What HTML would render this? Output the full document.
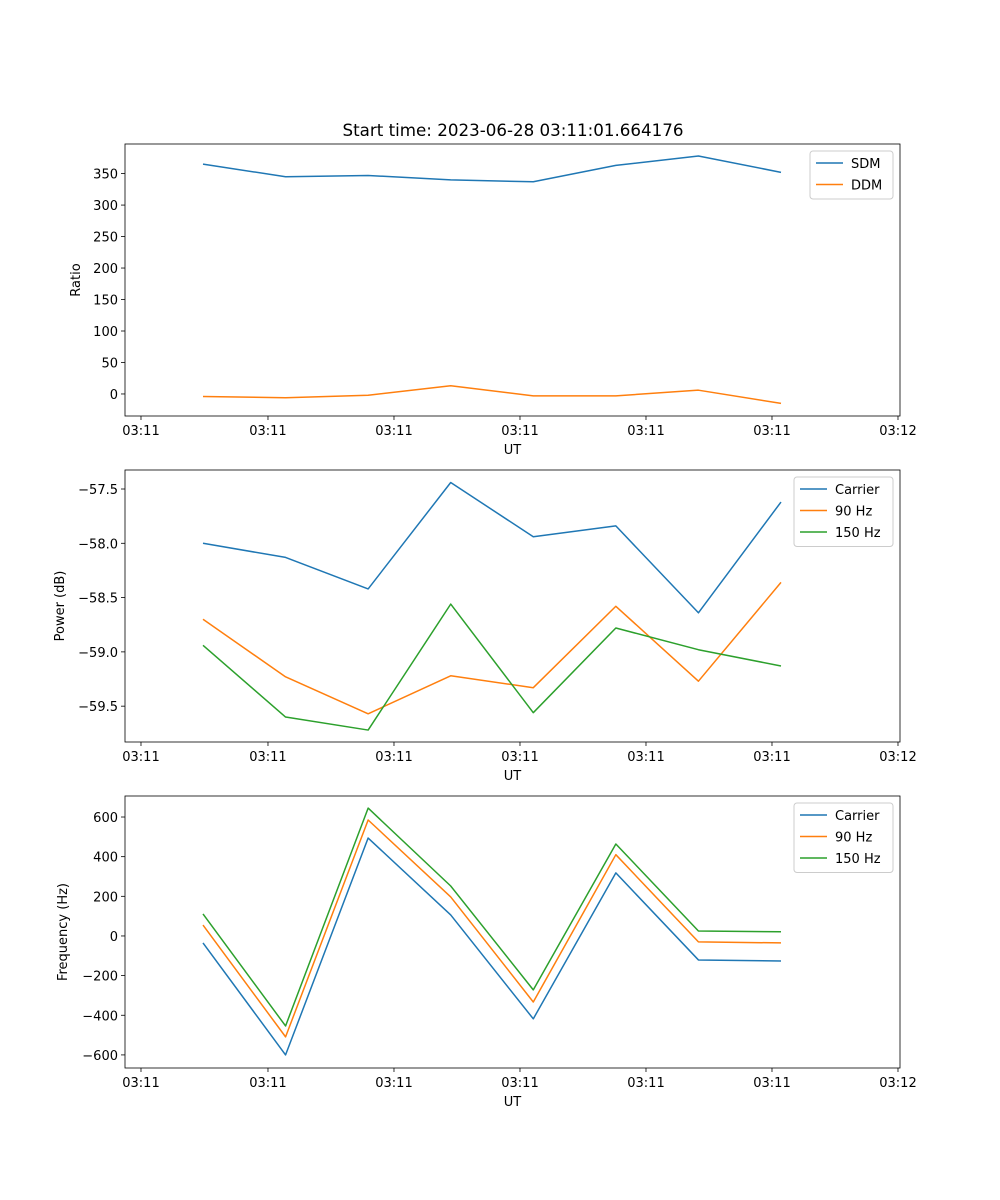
<!DOCTYPE html>
<html><head><meta charset="utf-8"><style>
body{margin:0;background:#fff}
svg{display:block;font-family:"DejaVu Sans","Liberation Sans",sans-serif}
</style></head><body>
<svg id="fig" width="1000" height="1200" xmlns="http://www.w3.org/2000/svg">
<rect width="1000" height="1200" fill="#fff"/>
<text x="513" y="136" text-anchor="middle" font-size="16.7">Start time: 2023-06-28 03:11:01.664176</text>
</svg>
<script>
const xTickVals=[-0.751,0.787,2.313,3.839,5.365,6.891,8.417];
const xTickLabels=["03:11","03:11","03:11","03:11","03:11","03:11","03:12"];
const sdm=[365,345,347,340,337,363,378,352];
const ddm=[-4,-6,-2,13,-3,-3,6,-15];
const pwrCarrier=[-58.0,-58.13,-58.42,-57.44,-57.94,-57.84,-58.64,-57.62];
const pwr90=[-58.70,-59.23,-59.57,-59.22,-59.33,-58.58,-59.27,-58.36];
const pwr150=[-58.94,-59.60,-59.72,-58.56,-59.56,-58.78,-58.98,-59.13];
const frqCarrier=[-35,-600,494,106,-418,318,-121,-126];
const frq90=[55,-509,585,197,-333,410,-30,-35];
const frq150=[111,-454,645,252,-272,464,25,21];
const ratioTicks=[0,50,100,150,200,250,300,350];
const powerTicks=[-59.5,-59.0,-58.5,-58.0,-57.5];
const powerTickLabels=["\u221259.5","\u221259.0","\u221258.5","\u221258.0","\u221257.5"];
const freqTicks=[-600,-400,-200,0,200,400,600];
const freqTickLabels=["\u2212600","\u2212400","\u2212200","0","200","400","600"];

const NS="http://www.w3.org/2000/svg";
const svg=document.getElementById('fig');
const C=['#1f77b4','#ff7f0e','#2ca02c'];
function mk(tag,attrs,parent){const e=document.createElementNS(NS,tag);for(const k in attrs)e.setAttribute(k,attrs[k]);(parent||svg).appendChild(e);return e;}
const L=125,R=900;
const xs=i=>203+i*82.57;

function panel(name,top,bot,ymin,ymax,yt,ytl,ylabel,series,names,leg){
  const g=mk('g',{});
  
  
  const ys=v=>bot-(v-ymin)/(ymax-ymin)*(bot-top);
  yt.forEach((v,k)=>{const y=ys(v);
    mk('line',{x1:L-4,x2:L,y1:y,y2:y,stroke:'#000','stroke-width':0.8},g);
    const t=mk('text',{x:L-7,y:y+5,'text-anchor':'end','font-size':13},g);t.textContent=ytl[k];
    
    
  });
  xTickVals.forEach((v,k)=>{const x=xs(v);
    mk('line',{x1:x,x2:x,y1:bot,y2:bot+4,stroke:'#000','stroke-width':0.8},g);
    const t=mk('text',{x:x,y:bot+19,'text-anchor':'middle','font-size':13},g);t.textContent=xTickLabels[k];
    
    
  });
  series.forEach((s,si)=>{
    const p=mk('polyline',{points:s.map((v,i)=>xs(i)+','+ys(v)).join(' '),fill:'none',stroke:C[si],'stroke-width':1.5,'stroke-linejoin':'round'},g);
    
    
  });
  mk('rect',{x:L,y:top,width:R-L,height:bot-top,fill:'none',stroke:'#000','stroke-width':0.8},g);
  const xl=mk('text',{x:(L+R)/2,y:bot+38,'text-anchor':'middle','font-size':13},g);xl.textContent='UT';
  
  
  const yx=leg.yl, ym=(top+bot)/2;
  const yl=mk('text',{x:yx,y:ym,'text-anchor':'middle','font-size':13,transform:'rotate(-90 '+yx+' '+ym+')'},g);yl.textContent=ylabel;
  
  
  const lg=mk('g',{},g);
  
  
  mk('rect',{x:leg.x,y:top+7,width:R-7-leg.x,height:names.length*21.5+5,rx:3,fill:'#fff',stroke:'#ccc','stroke-width':1},lg);
  names.forEach((n,k)=>{const y=top+19+k*21.5;
    mk('line',{x1:leg.x+6,x2:leg.x+33,y1:y,y2:y,stroke:C[k],'stroke-width':1.5},lg);
    const t=mk('text',{x:leg.x+41,y:y+5,'font-size':13},lg);t.textContent=n;
    
    
  });
}
panel('ratio',144,416,-35,397,ratioTicks,ratioTicks.map(String),'Ratio',[sdm,ddm],['SDM','DDM'],{x:810,yl:80});
panel('power',470,742,-59.83,-57.325,powerTicks,powerTickLabels,'Power (dB)',[pwrCarrier,pwr90,pwr150],['Carrier','90 Hz','150 Hz'],{x:794,yl:64});
panel('frequency',796,1068,-666,706,freqTicks,freqTickLabels,'Frequency (Hz)',[frqCarrier,frq90,frq150],['Carrier','90 Hz','150 Hz'],{x:794,yl:67});
</script>
</body></html>
